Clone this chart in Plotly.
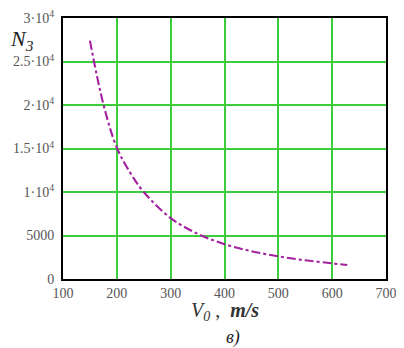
import plotly.graph_objects as go

v0 = [150, 175, 200, 225, 250, 300, 350, 400, 450, 500, 550, 600, 628]
n3 = [27400, 20100, 15100, 12200, 10000, 7000, 5200, 4000, 3200, 2600, 2150, 1800, 1600]

x_ticks = [100, 200, 300, 400, 500, 600, 700]
y_ticks = [0, 5000, 10000, 15000, 20000, 25000, 30000]
y_ticktext = ["0", "5000", "1·10<sup>4</sup>", "1.5·10<sup>4</sup>", "2·10<sup>4</sup>",
              "2.5·10<sup>4</sup>", "3·10<sup>4</sup>"]

fig = go.Figure()
fig.add_trace(go.Scatter(x=v0, y=n3, mode="lines",
                         line=dict(color="#a4229f", width=2.1, dash="dashdot", shape="spline")))

grid = "#3ccd3c"
tfont = dict(family="Liberation Serif", size=14, color="#555")
fig.update_xaxes(range=[100, 700], tickvals=x_ticks, ticktext=[str(t) for t in x_ticks],
                 showgrid=True, gridcolor=grid, gridwidth=1.5, showline=True, linecolor="black",
                 linewidth=2, mirror=True, zeroline=False, ticks="", tickfont=tfont,
                 automargin=False)
fig.update_yaxes(range=[0, 30000], tickvals=y_ticks, ticktext=y_ticktext,
                 showgrid=True, gridcolor=grid, gridwidth=1.5, showline=True, linecolor="black",
                 linewidth=2, mirror=True, zeroline=False, ticks="", ticklabelstandoff=4,
                 tickfont=tfont, automargin=False)

fig.add_annotation(text="<i>N</i><sub><i>3</i></sub>", xref="paper", yref="paper", x=-0.127, y=0.916,
                   xanchor="center", yanchor="middle", showarrow=False,
                   font=dict(family="Liberation Serif", size=22, color="#222"))
fig.add_annotation(text="<i>V</i><sub><i>0</i></sub> ,  <b><i>m/s</i></b>", xref="paper", yref="paper",
                   x=0.50, y=-0.125, xanchor="center", yanchor="middle", showarrow=False,
                   font=dict(family="Liberation Serif", size=20, color="#333"))
fig.add_annotation(text="<i>в)</i>", xref="paper", yref="paper",
                   x=0.526, y=-0.225, xanchor="center", yanchor="middle", showarrow=False,
                   font=dict(family="Liberation Serif", size=18, color="#222"))

fig.update_layout(width=396, height=340, margin=dict(l=55, r=18, t=10, b=69),
                  paper_bgcolor="white", plot_bgcolor="white", showlegend=False)
fig.write_html("out.html")
